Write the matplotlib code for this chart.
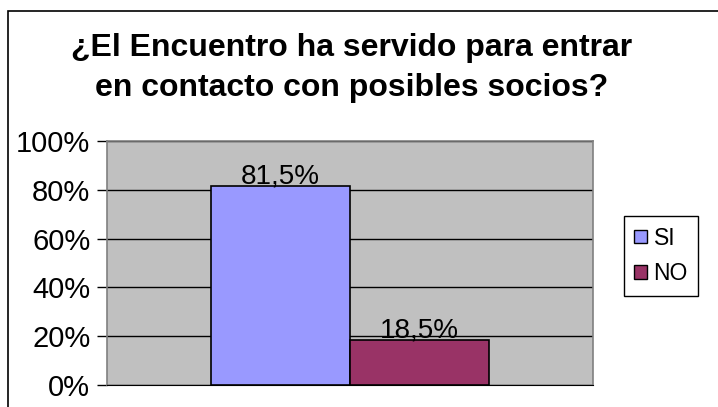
import matplotlib.pyplot as plt
from matplotlib.patches import Rectangle, Patch
from matplotlib.ticker import FuncFormatter

categories = ["SI", "NO"]
values = [81.5, 18.5]
value_labels = ["81,5%", "18,5%"]
colors = ["#9999FF", "#993366"]
title_lines = ["¿El Encuentro ha servido para entrar",
               "en contacto con posibles socios?"]

plt.rcParams['font.family'] = ['Liberation Sans', 'DejaVu Sans']

fig = plt.figure(figsize=(7.18, 4.07), dpi=100)
fig.patch.set_facecolor('white')

# outer chart border (cut off at right and bottom like the original)
fig.add_artist(Rectangle((8 / 718, -0.1), 1.2, (407 - 11) / 407 + 0.1,
                         transform=fig.transFigure, fill=False,
                         edgecolor='black', linewidth=1.2))

ax = fig.add_axes([107 / 718, 22 / 407, 486 / 718, 244 / 407])
ax.set_facecolor('#C0C0C0')

width = 0.285
xs = [0.5 - width / 2, 0.5 + width / 2]
bars = ax.bar(xs, values, width=width, color=colors, edgecolor='black',
              linewidth=1.2, zorder=3)
for b, lab in zip(bars, value_labels):
    ax.annotate(lab, (b.get_x() + b.get_width() / 2, b.get_height()),
                xytext=(0, 2), textcoords='offset points',
                ha='center', va='baseline', fontsize=20, zorder=4)

ax.set_xlim(0, 1)
ax.set_ylim(0, 100)
ax.set_yticks(range(0, 101, 20))
ax.yaxis.set_major_formatter(FuncFormatter(lambda v, p: f"{int(v)}%"))
ax.tick_params(axis='y', labelsize=21, length=7, width=1, color='black', pad=5)
ax.set_xticks([])
ax.yaxis.grid(True, color='black', linewidth=1, zorder=1)
ax.set_axisbelow(True)
for s in ['top', 'right', 'left']:
    ax.spines[s].set_color('#808080')
    ax.spines[s].set_linewidth(1.2)
ax.spines['bottom'].set_color('black')

for line, ypix in zip(title_lines, [56, 96]):
    fig.text(352 / 718, 1 - ypix / 407, line, ha='center', va='baseline',
             fontsize=23, fontweight='bold')

handles = [Patch(facecolor=c, edgecolor='black', linewidth=1) for c in colors]
leg = fig.legend(handles, categories, loc='center',
                 bbox_to_anchor=(661 / 718, 1 - 256 / 407), fontsize=16.5,
                 frameon=True, fancybox=False, framealpha=1,
                 edgecolor='black', handlelength=0.55, handleheight=0.55,
                 handletextpad=0.3, labelspacing=0.55, borderpad=0.45)
leg.get_frame().set_linewidth(1)

fig.savefig('out.png', dpi=100)
